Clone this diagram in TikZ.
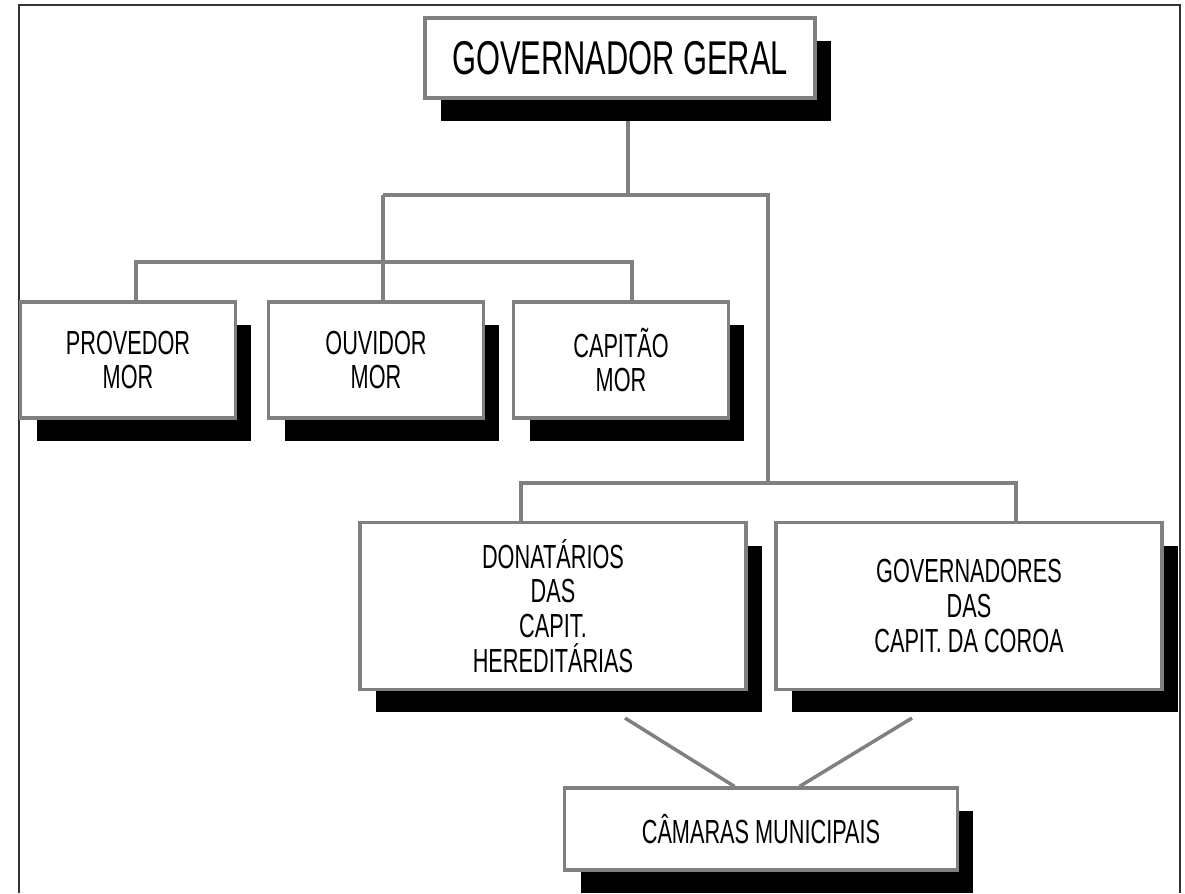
\documentclass[tikz,border=0pt]{standalone}
\usepackage{fontspec}
\setmainfont[FakeStretch=0.65]{Liberation Sans}
\usetikzlibrary{shadows,backgrounds}

\begin{document}
\begin{tikzpicture}[
		x=0.02cm, y=-0.02cm,
		box/.style={rectangle, draw=gray, line width=1.8pt, fill=white, align=center,
			inner sep=0pt, font=\fontsize{19}{19.8}\selectfont,
			drop shadow={shadow xshift=0.32cm, shadow yshift=-0.46cm, opacity=1, fill=black}},
		small/.style={box, minimum width=4.3cm, minimum height=2.32cm},
		wide/.style={box, minimum width=7.72cm, minimum height=3.34cm},
		conn/.style={draw=gray, line width=2pt}
	]
	\useasboundingbox (0,0) rectangle (1185,893);
	\draw[black!80, line width=1.6pt] (19,893) -- (19,5) -- (1180,5) -- (1180,893);

	\node[box, minimum width=7.8cm, minimum height=1.6cm, font=\fontsize{27}{30}\selectfont] (gg) at (620,58) {GOVERNADOR GERAL};

	\node[small] (prov) at (128,360) {PROVEDOR\\MOR};
	\node[small] (ouv) at (376,360) {OUVIDOR\\MOR};
	\node[small] (cap) at (621,360) {CAPITÃO\\MOR};

	\node[wide] (don) at (553,606) {DONATÁRIOS\\DAS\\CAPIT.\\HEREDITÁRIAS};
	\node[wide] (gov) at (969,606) {GOVERNADORES\\DAS\\CAPIT. DA COROA};

	\node[box, minimum width=7.86cm, minimum height=1.64cm] (cam) at (761,829) {CÂMARAS MUNICIPAIS};

	\begin{scope}[on background layer]
		\draw[conn] (628,0 |- gg.south) -- (628,195);
		\draw[conn] (383,195) -| (768,483);
		\draw[conn] (383,0 |- ouv.north) -- (383,195);
		\draw[conn] (136,0 |- prov.north) |- (632,262) -- (632,0 |- cap.north);
		\draw[conn] (521,0 |- don.north) |- (1016,483) -- (1016,0 |- gov.north);
		\draw[conn] ([xshift=1.44cm,yshift=-0.54cm]don.south) -- ([xshift=-0.53cm]cam.north);
		\draw[conn] ([xshift=-1.14cm,yshift=-0.54cm]gov.south) -- ([xshift=0.77cm]cam.north);
	\end{scope}
\end{tikzpicture}
\end{document}
